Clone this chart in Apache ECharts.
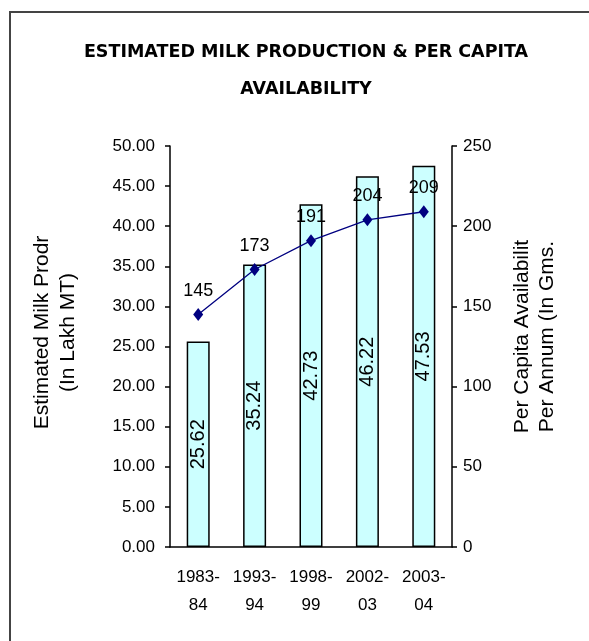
<!DOCTYPE html>
<html>
<head>
<meta charset="utf-8">
<script src="https://cdn.jsdelivr.net/npm/echarts@6/dist/echarts.min.js"></script>
<style>
  html, body { margin: 0; padding: 0; background: #fff; }
  #main { width: 589px; height: 641px; }
</style>
</head>
<body>
<div id="main"></div>
<script>
// chart data
var years = ["1983-\n84", "1993-\n94", "1998-\n99", "2002-\n03", "2003-\n04"];
var milkProduction = [25.62, 35.24, 42.73, 46.22, 47.53];
var perCapita = [145, 173, 191, 204, 209];

var labelFont = "Liberation Sans";

var chart = echarts.init(document.getElementById("main"));
chart.setOption({
  animation: false,
  backgroundColor: "#fff",
  title: {
    text: "ESTIMATED MILK PRODUCTION & PER CAPITA\nAVAILABILITY",
    left: 301,
    top: 29,
    textAlign: "center",
    textStyle: {
      fontFamily: "DejaVu Sans",
      fontWeight: "bold",
      fontSize: 17.5,
      lineHeight: 37,
      color: "#000",
    },
  },
  graphic: [
    {
      type: "rect",
      shape: { x: 10, y: 12, width: 700, height: 700 },
      style: { fill: "none", stroke: "#444", lineWidth: 2 },
      z: 100,
    },
  ],
  grid: {
    left: 170,
    right: 137,
    top: 146,
    bottom: 94,
  },
  xAxis: {
    type: "category",
    data: years,
    axisLine: { lineStyle: { color: "#000", width: 1.5 } },
    axisTick: { length: 5, lineStyle: { color: "#000", width: 1.5 } },
    axisLabel: {
      interval: 0,
      color: "#000",
      fontFamily: labelFont,
      fontSize: 17,
      lineHeight: 28,
      margin: 16,
    },
  },
  yAxis: [
    {
      type: "value",
      min: 0,
      max: 50,
      interval: 5,
      name: "Estimated Milk Prodr\n(In Lakh MT)",
      nameLocation: "middle",
      nameRotate: 90,
      nameGap: 89,
      nameTextStyle: {
        color: "#000",
        fontFamily: labelFont,
        fontSize: 21,
        lineHeight: 26,
        padding: [0, 0, 0, 28],
      },
      axisLine: { show: true, lineStyle: { color: "#000", width: 1.5 } },
      axisTick: { show: true, length: 5, lineStyle: { color: "#000", width: 1.5 } },
      axisLabel: {
        color: "#000",
        fontFamily: labelFont,
        fontSize: 17,
        margin: 15,
        formatter: function (v) { return v.toFixed(2); },
      },
      splitLine: { show: false },
    },
    {
      type: "value",
      min: 0,
      max: 250,
      interval: 50,
      name: "Per Capita Availabilit\nPer Annum (In Gms.",
      nameLocation: "middle",
      nameRotate: 90,
      nameGap: 58,
      nameTextStyle: {
        color: "#000",
        fontFamily: labelFont,
        fontSize: 21,
        lineHeight: 25,
        padding: [0, 0, 0, 20],
      },
      axisLine: { show: true, lineStyle: { color: "#000", width: 1.5 } },
      axisTick: { show: true, length: 5, lineStyle: { color: "#000", width: 1.5 } },
      axisLabel: {
        color: "#000",
        fontFamily: labelFont,
        fontSize: 17,
        margin: 11,
      },
      splitLine: { show: false },
    },
  ],
  series: [
    {
      name: "Milk Production",
      type: "bar",
      data: milkProduction,
      barWidth: 23,
      itemStyle: {
        color: "#ccffff",
        borderColor: "#000",
        borderWidth: 1.5,
      },
      label: {
        show: true,
        position: "inside",
        rotate: 90,
        color: "#000",
        fontFamily: labelFont,
        fontSize: 20,
        formatter: function (p) { return p.value.toFixed(2); },
      },
    },
    {
      name: "Per Capita",
      type: "line",
      yAxisIndex: 1,
      data: perCapita,
      symbol: "diamond",
      symbolSize: [10, 13],
      lineStyle: { color: "#000080", width: 1.3 },
      itemStyle: { color: "#000080" },
      label: {
        show: true,
        position: "top",
        distance: 8,
        color: "#000",
        fontFamily: labelFont,
        fontSize: 18,
      },
      z: 3,
    },
  ],
});
</script>
</body>
</html>
